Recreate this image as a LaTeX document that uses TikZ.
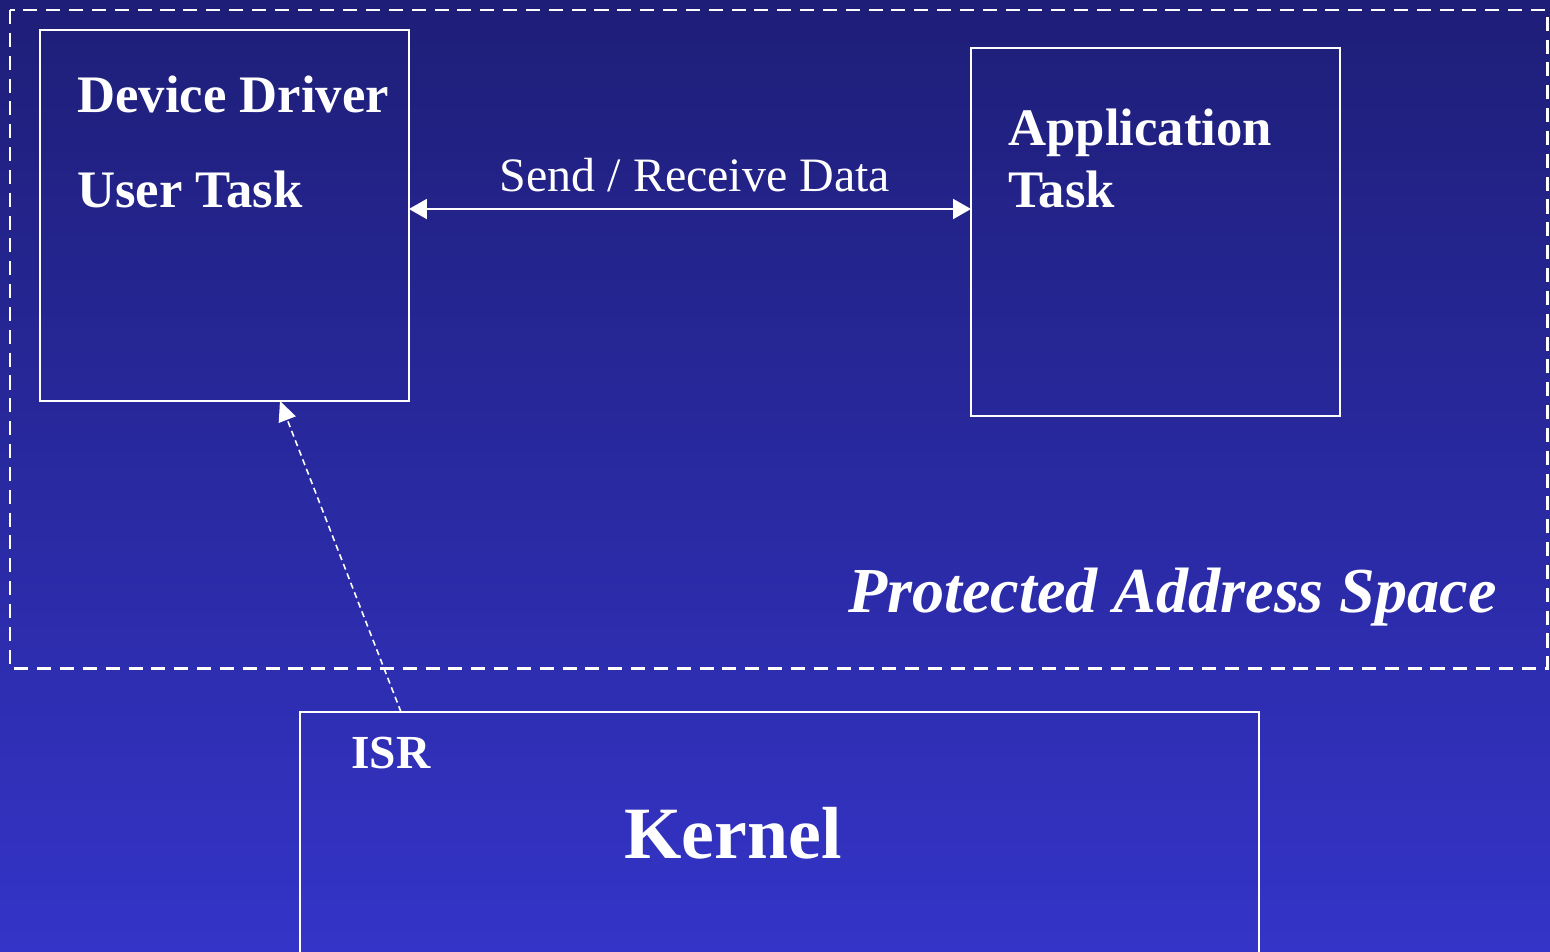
\documentclass[tikz,border=0pt]{standalone}
\usepackage{fontspec}
\setmainfont{Liberation Serif}
\usepackage{tikz}
\usetikzlibrary{calc}
\usetikzlibrary{positioning}
\usetikzlibrary{arrows.meta}

\definecolor{bgtop}{RGB}{30,30,120}
\definecolor{bgbot}{RGB}{52,52,200}

\tikzset{
	box/.style = {draw=white, line width=1.1pt, inner sep=0pt, outer sep=0pt, anchor=north west},
	lbl/.style = {text=white, inner sep=0pt, anchor=base west},
	dataarrow/.style = {draw=white, line width=1.1pt, {Triangle[length=0.36cm,width=0.4cm]}-{Triangle[length=0.36cm,width=0.4cm]}},
	irqarrow/.style = {draw=white, line width=0.9pt, dash pattern=on 3.5pt off 2.3pt, -{Triangle[length=0.4cm,width=0.36cm]}}
}

\begin{document}
\begin{tikzpicture}[x=0.02cm, y=-0.02cm]
					\shade[top color=bgtop, bottom color=bgbot] (0,0) rectangle (1550,951);
					\useasboundingbox (0,0) rectangle (1550,951);

					% protected address space
					\draw[white, line width=1.7pt, dash pattern=on 8pt off 5pt] (10,10) rectangle (1547,668);
					\node[lbl, anchor=base east] (pas) at (1497,612) {\fontsize{36.5}{44}\selectfont\bfseries\itshape Protected Address Space};

					\node[box, minimum width=7.38cm, minimum height=7.42cm] (drv) at (40,30) {};
					\node[box, minimum width=7.38cm, minimum height=7.36cm] (app) at (971,48) {};
					\node[box, minimum width=19.18cm, minimum height=5cm] (krn) at (300,712) {};

					\node[lbl] (drv1) at (77,112) {\fontsize{30}{36}\selectfont\bfseries Device Driver};
					\node[lbl] (drv2) at (77,207) {\fontsize{30}{36}\selectfont\bfseries User Task};
					\node[lbl] (app1) at (1008,145) {\fontsize{30}{36}\selectfont\bfseries Application};
					\node[lbl] (app2) at (1008,207) {\fontsize{30}{36}\selectfont\bfseries Task};
					\node[lbl] (isr) at (351,768) {\fontsize{27}{32}\selectfont\bfseries ISR};
					\node[lbl] (kname) at (624,858) {\fontsize{42}{50}\selectfont\bfseries Kernel};

					\coordinate (drvin) at (280,401);
					\coordinate (isrout) at (401,712);

					\draw[dataarrow] (drv.east |- 0,209) -- node[above=0.32cm, xshift=0.1cm, text=white, inner sep=0pt] (data) {\fontsize{27.3}{33}\selectfont Send / Receive Data} (app.west |- 0,209);
					\draw[irqarrow] (isrout) -- (drvin);
\end{tikzpicture}
\end{document}
